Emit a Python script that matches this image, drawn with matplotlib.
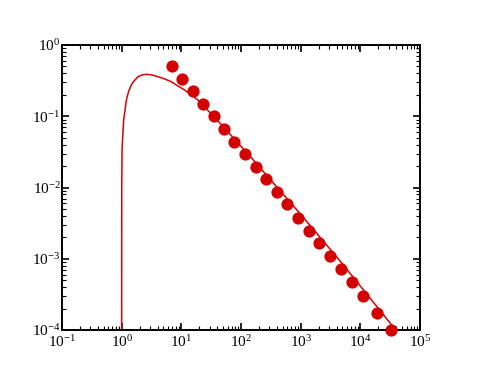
import matplotlib
matplotlib.use("Agg")
import matplotlib.pyplot as plt
import numpy as np
from matplotlib.ticker import LogLocator, NullFormatter

plt.rcParams['font.family'] = ['Liberation Serif', 'DejaVu Serif']
plt.rcParams['mathtext.fontset'] = 'custom'
plt.rcParams['mathtext.rm'] = 'Liberation Serif'
plt.rcParams['mathtext.it'] = 'Liberation Serif:italic'

# curve
curve_x = [1.0, 1.003, 1.015, 1.08, 1.2, 1.3, 1.45, 1.6, 1.88, 2.2, 2.6, 3.2,
           4.06, 5.2, 6.8, 8.5, 11.4, 19, 40, 139, 1000, 4490, 37400]
curve_y = [1e-4, 0.01, 0.035, 0.0886, 0.169, 0.22, 0.275, 0.31, 0.359, 0.38,
           0.388, 0.38, 0.359, 0.335, 0.305, 0.27, 0.233, 0.169, 0.088,
           0.028, 0.0042, 0.00095, 1.05e-4]

# dots
dot_x = [6.88, 10.4, 15.5, 23.3, 34.8, 51.7, 77.3, 116, 176, 265, 399, 597,
         898, 1356, 2018, 3084, 4714, 7115, 11190, 19200, 32940]
dot_y = [0.507, 0.336, 0.226, 0.150, 0.101, 0.0669, 0.0440, 0.0295, 0.0196,
         0.0133, 0.00857, 0.00581, 0.00370, 0.00248, 0.00165, 0.00109,
         0.000718, 0.000472, 0.000297, 0.000175, 0.0001]

fig = plt.figure(figsize=(4.78, 3.73), dpi=100)
ax = fig.add_axes([62 / 478, 43 / 373, 358 / 478, 285 / 373])

ax.plot(curve_x, curve_y, color='#dd0000', lw=1.1)
ax.plot(dot_x, dot_y, 'o', color='#d40000', ms=8.8, mec='none', clip_on=False, zorder=3)

ax.set_xscale('log')
ax.set_yscale('log')
ax.set_xlim(1e-1, 1e5)
ax.set_ylim(1e-4, 1e0)

ax.xaxis.set_major_locator(LogLocator(base=10, numticks=10))
ax.yaxis.set_major_locator(LogLocator(base=10, numticks=10))
ax.xaxis.set_minor_locator(LogLocator(base=10, subs=np.arange(2, 10), numticks=20))
ax.yaxis.set_minor_locator(LogLocator(base=10, subs=np.arange(2, 10), numticks=20))
ax.xaxis.set_minor_formatter(NullFormatter())
ax.yaxis.set_minor_formatter(NullFormatter())

ax.tick_params(which='both', direction='in', top=True, right=True, labelsize=11, width=1.2)
ax.tick_params(which='major', length=5)
ax.tick_params(which='minor', length=3, width=0.8)
ax.tick_params(axis='x', which='major', pad=3)
ax.tick_params(axis='y', which='major', pad=1)
for s in ax.spines.values():
    s.set_linewidth(1.4)

fig.savefig('out.png', dpi=100)
